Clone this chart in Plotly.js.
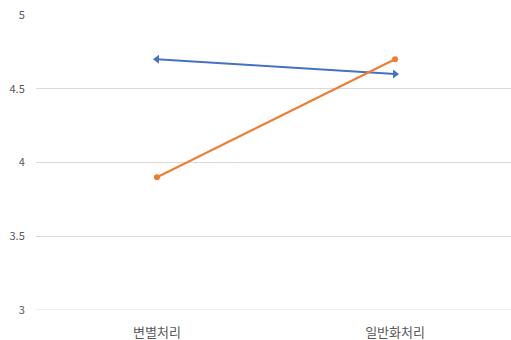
<!DOCTYPE html>
<html><head><meta charset="utf-8">
<script src="https://cdn.plot.ly/plotly-3.0.1.min.js"></script>
<style>html,body{margin:0;padding:0;background:#fff}#c{width:511px;height:340px}</style>
</head><body><div id="c"></div>
<script>
const categories = ['변별처리', '일반화처리'];
const seriesBlue = [4.7, 4.6];
const seriesOrange = [3.9, 4.7];
const yTicks = [3, 3.5, 4, 4.5, 5];
const yTickLabels = ['3', '3.5', '4', '4.5', '5'];

const traces = [
  {x: categories, y: seriesBlue, type: 'scatter', mode: 'lines+markers',
   line: {color: '#4472C4', width: 2},
   marker: {symbol: ['triangle-left', 'triangle-right'], size: 8, color: '#4472C4'},
   hoverinfo: 'none'},
  {x: categories, y: seriesOrange, type: 'scatter', mode: 'lines+markers',
   line: {color: '#ED7D31', width: 2},
   marker: {symbol: 'circle', size: 6, color: '#ED7D31'},
   hoverinfo: 'none'}
];
const layout = {
  width: 511, height: 340,
  margin: {l: 36, r: 0, t: 15, b: 30},
  showlegend: false,
  paper_bgcolor: '#fff', plot_bgcolor: '#fff',
  font: {family: '"Noto Sans CJK KR", "Noto Sans", sans-serif', color: '#595959'},
  xaxis: {type: 'category', range: [-0.508, 1.487], showgrid: false, zeroline: false,
    showline: false, ticks: 'outside', ticklen: 10, tickcolor: 'rgba(0,0,0,0)',
    tickfont: {size: 13, color: '#595959'}},
  yaxis: {range: [3, 5], tickvals: yTicks, ticktext: yTickLabels, showgrid: true,
    gridcolor: '#D9D9D9', gridwidth: 1, zeroline: false, showline: false,
    ticks: 'outside', ticklen: 8, tickcolor: 'rgba(0,0,0,0)',
    tickfont: {size: 11, color: '#595959'}},
  shapes: [{type: 'line', xref: 'paper', yref: 'y', x0: 0, x1: 1, y0: yTicks[0], y1: yTicks[0],
    line: {color: '#D9D9D9', width: 1}, layer: 'below'}]
};
Plotly.newPlot('c', traces, layout, {displayModeBar: false, staticPlot: true});
</script></body></html>
